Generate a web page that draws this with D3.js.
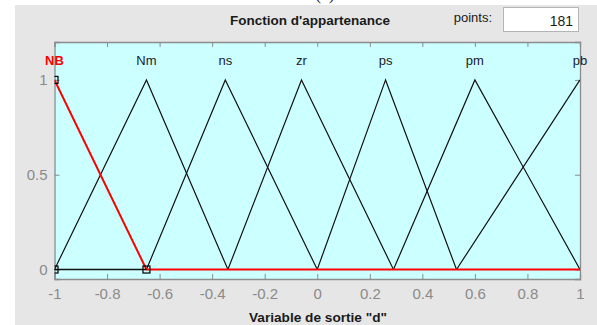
<!DOCTYPE html>
<html><head><meta charset="utf-8">
<script src="https://cdn.jsdelivr.net/npm/d3@7"></script>
<style>body{margin:0;background:#fff;}svg{display:block;}</style>
</head><body>
<script>
// Data
const mfNames = ["NB", "Nm", "ns", "zr", "ps", "pm", "pb"];
const mfParams = [
  [-1, -1, -0.65],
  [-1, -0.65, -0.34],
  [-0.65, -0.35, 0],
  [-0.34, -0.06, 0.29],
  [0, 0.26, 0.53],
  [0.29, 0.6, 1],
  [0.53, 1, 1]
];
const selectedMF = "NB";
const xTicks = [-1, -0.8, -0.6, -0.4, -0.2, 0, 0.2, 0.4, 0.6, 0.8, 1];
const yTicks = [0, 0.5, 1];
const pointsValue = "181";

const W = 597, H = 325;
const svg = d3.select("body").append("svg").attr("width", W).attr("height", H);

// figure background
svg.append("rect").attr("x", 15).attr("y", 5).attr("width", W - 15).attr("height", H - 5).attr("fill", "#e6e6e6");
// cut caption at top (as in the source screenshot)
svg.append("text").attr("x", 325).attr("y", 0).attr("text-anchor", "middle")
  .attr("font-family", "Liberation Serif").attr("font-size", 17).attr("fill", "#222").text("(c)");

const L = 54.5, R = 580, T = 42, B = 279;
const x = d3.scaleLinear().domain([-1, 1]).range([L, R]);
const y = d3.scaleLinear().domain([-0.05, 1.2]).range([B, T]);

// plot bg
svg.append("rect").attr("x", L).attr("y", T).attr("width", R - L).attr("height", B - T).attr("fill", "#ccffff");

svg.append("clipPath").attr("id", "clip").append("rect")
  .attr("x", L).attr("y", T).attr("width", R - L).attr("height", B - T);

const axisColor = "#8c8c8c";
const fmt = d => String(d);
// axes
const gB = svg.append("g").attr("transform", `translate(0,${B})`)
  .call(d3.axisBottom(x).tickValues(xTicks).tickSize(-5).tickPadding(9).tickFormat(fmt));
const gT = svg.append("g").attr("transform", `translate(0,${T})`)
  .call(d3.axisTop(x).tickValues(xTicks).tickSize(-5).tickFormat(""));
const gL = svg.append("g").attr("transform", `translate(${L},0)`)
  .call(d3.axisLeft(y).tickValues(yTicks).tickSize(-5).tickPadding(7).tickFormat(fmt));
const gR = svg.append("g").attr("transform", `translate(${R},0)`)
  .call(d3.axisRight(y).tickValues(yTicks).tickSize(-5).tickFormat(""));
[gB, gT, gL, gR].forEach(g => {
  g.select(".domain").attr("stroke", axisColor).attr("stroke-width", 1.3);
  g.selectAll(".tick line").attr("stroke", axisColor);
  g.selectAll(".tick text").attr("fill", "#8a8a8a").attr("font-family", "Liberation Sans").attr("font-size", 15);
});

// MF curves
function trimf(v, p) {
  const [a, b, c] = p;
  let l = a === b ? (v >= b ? 1 : 0) : (v - a) / (b - a);
  let r = b === c ? (v <= b ? 1 : 0) : (c - v) / (c - b);
  return Math.max(0, Math.min(l, r));
}
function mfPoints(p) {
  const xs = Array.from(new Set([-1, p[0], p[1], p[2], 1].filter(v => v >= -1 && v <= 1))).sort((a, b) => a - b);
  return xs.map(v => [v, trimf(v, p)]);
}
const line = d3.line().x(d => x(d[0])).y(d => y(d[1]));
const plot = svg.append("g").attr("clip-path", "url(#clip)");
mfNames.forEach((n, i) => {
  if (n === selectedMF) return;
  plot.append("path").attr("d", line(mfPoints(mfParams[i]))).attr("fill", "none")
    .attr("stroke", "#111").attr("stroke-width", 1.2);
});
const si = mfNames.indexOf(selectedMF);
plot.append("path").attr("d", line(mfPoints(mfParams[si]))).attr("fill", "none")
  .attr("stroke", "#ff0000").attr("stroke-width", 2);
// black baseline under left part
plot.append("line").attr("x1", x(-1)).attr("x2", x(mfParams[si][2])).attr("y1", y(0)).attr("y2", y(0))
  .attr("stroke", "#111").attr("stroke-width", 1.5);
// vertex markers
const verts = [[mfParams[si][0], 0], [mfParams[si][1], 1], [mfParams[si][2], 0]];
plot.selectAll("rect.v").data(verts).join("rect").attr("class", "v")
  .attr("x", d => x(d[0]) - 3.5).attr("y", d => y(d[1]) - 3.5).attr("width", 7).attr("height", 7)
  .attr("fill", "none").attr("stroke", "#000").attr("stroke-width", 1.2);

// MF labels
svg.selectAll("text.mf").data(mfNames).join("text").attr("class", "mf")
  .attr("x", (d, i) => x(mfParams[i][1]))
  .attr("y", 65).attr("text-anchor", "middle")
  .attr("font-family", "Liberation Sans").attr("font-size", 13)
  .attr("font-weight", d => d === selectedMF ? "bold" : "normal")
  .attr("fill", d => d === selectedMF ? "#ff0000" : "#1a1a2a").text(d => d);

// title
svg.append("text").attr("x", 310).attr("y", 25).attr("text-anchor", "middle")
  .attr("font-family", "Liberation Sans").attr("font-weight", "bold").attr("font-size", 12.5)
  .attr("fill", "#1a1a1a").attr("textLength", 160).attr("lengthAdjust", "spacingAndGlyphs")
  .text("Fonction d'appartenance");
// x-axis title
svg.append("text").attr("x", 318).attr("y", 322).attr("text-anchor", "middle")
  .attr("font-family", "Liberation Sans").attr("font-weight", "bold").attr("font-size", 12.5)
  .attr("fill", "#1a1a1a").attr("textLength", 138).attr("lengthAdjust", "spacingAndGlyphs")
  .text('Variable de sortie "d"');

// points box
svg.append("text").attr("x", 492).attr("y", 22).attr("text-anchor", "end")
  .attr("font-family", "Liberation Sans").attr("font-size", 13).attr("fill", "#1a1a1a").text("points:");
svg.append("rect").attr("x", 503.5).attr("y", 7.5).attr("width", 75).attr("height", 24)
  .attr("fill", "#fff").attr("stroke", "#b4b4b4");
svg.append("text").attr("x", 573).attr("y", 26).attr("text-anchor", "end")
  .attr("font-family", "Liberation Sans").attr("font-size", 14).attr("fill", "#1a1a1a").text(pointsValue);
</script>
</body></html>
